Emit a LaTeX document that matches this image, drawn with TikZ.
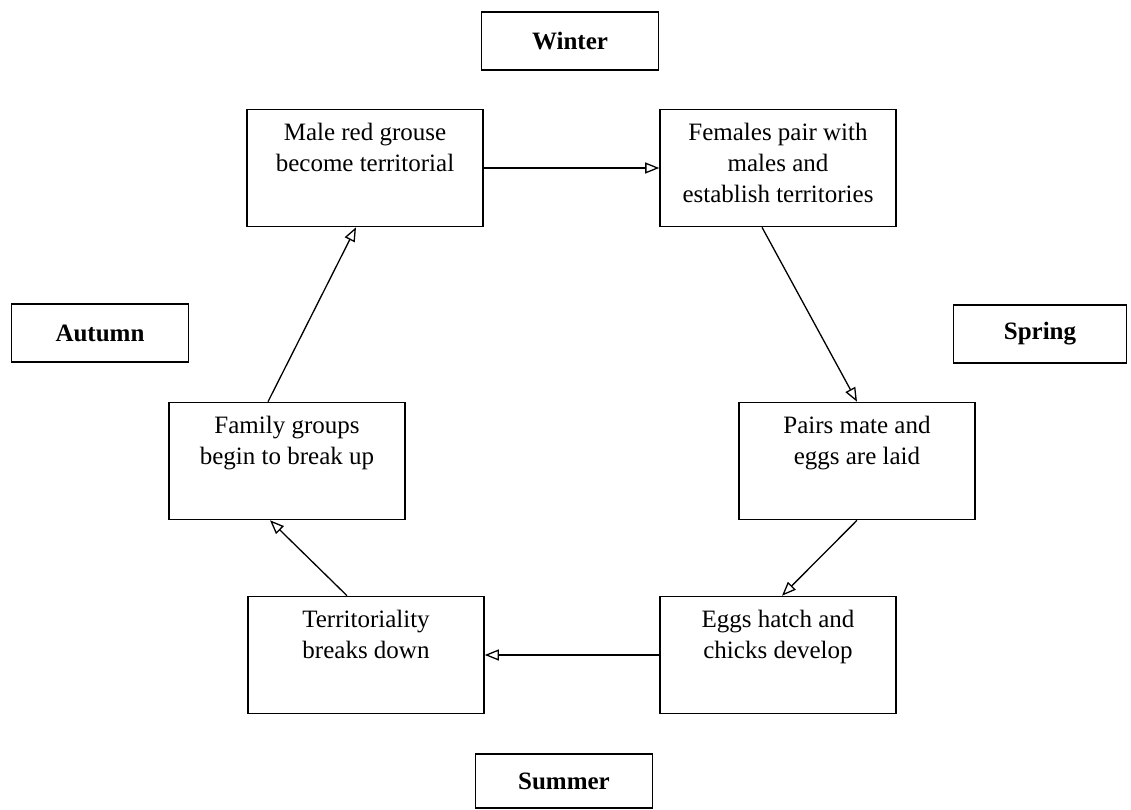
\documentclass[tikz,border=0pt]{standalone}
\usepackage{fontspec}
\setmainfont{Liberation Serif}
\usetikzlibrary{arrows.meta}
\newcommand{\stagetext}[1]{\parbox[t][89pt][t]{220pt}{\centering #1}}

\begin{document}
\begin{tikzpicture}[x=1pt, y=-1pt,
    font=\fontsize{25}{31}\selectfont,
    season/.style={draw, line width=1.6pt, minimum width=177pt, minimum height=58pt, inner sep=0pt, font=\fontsize{25}{31}\selectfont\bfseries},
    stage/.style={draw, line width=1.6pt, minimum width=236pt, inner xsep=0pt, inner ysep=14pt},
    turn/.style={-{Triangle[open, length=14pt, width=11pt, line width=1.3pt]}, line width=1.3pt}]
    \useasboundingbox (0,0) rectangle (1131,810);

    % seasons
    \node [season] (winter) at (570,41) {Winter};
    \node [season] (autumn) at (100,333) {Autumn};
    \node [season, minimum width=173pt] (spring) at (1040,334) {Spring};
    \node [season, minimum height=54pt] (summer) at (564,781) {Summer};

    % stages of the year
    \node [stage] (male) at (365,168) {\stagetext{Male red grouse\\ become territorial}};
    \node [stage] (females) at (778,168) {\stagetext{Females pair with\\ males and\\ establish territories}};
    \node [stage] (pairs) at (857,461) {\stagetext{Pairs mate and\\ eggs are laid}};
    \node [stage] (eggs) at (778,655) {\stagetext{Eggs hatch and\\ chicks develop}};
    \node [stage] (territ) at (366,655) {\stagetext{Territoriality\\ breaks down}};
    \node [stage] (family) at (287,461) {\stagetext{Family groups\\ begin to break up}};

    \draw [turn] (male) -- (females);
    \draw [turn] ([xshift=-16pt]females.south) -- (pairs.north);
    \draw [turn] (pairs.south) -- ([xshift=4pt]eggs.north);
    \draw [turn] (eggs) -- (territ);
    \draw [turn] ([xshift=-19pt]territ.north) -- ([xshift=-17pt]family.south);
    \draw [turn] ([xshift=-19pt]family.north) -- ([xshift=-9pt]male.south);
\end{tikzpicture}
\end{document}
